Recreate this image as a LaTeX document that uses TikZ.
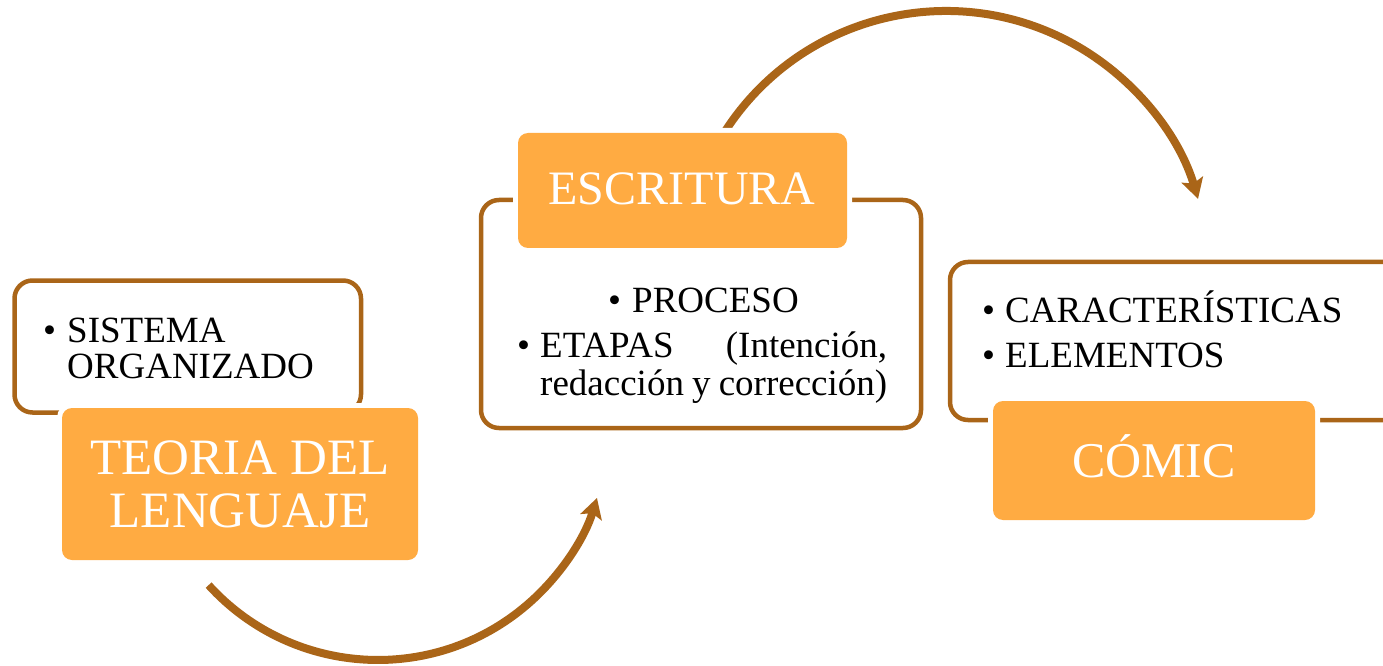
\documentclass[tikz,border=0pt]{standalone}
\usepackage{fontspec}
\setmainfont{Liberation Serif}
\usetikzlibrary{arrows.meta}
\definecolor{brn}{HTML}{AA6518}
\definecolor{org}{HTML}{FFAB42}
\begin{document}
\begin{tikzpicture}[x=1pt,y=1pt,
  outline/.style={draw=brn, line width=4.5pt, rounded corners=18pt, fill=white, inner sep=0pt, rectangle},
  titlebox/.style={fill=org, rounded corners=10pt, inner sep=0pt, rectangle, preaction={draw=white, line width=10pt}},
  flow/.style={draw=brn, line width=8pt, -{Stealth[length=20pt,width=22pt,inset=4pt]}},
  bodytxt/.style={anchor=base west, inner sep=0pt, font=\fontsize{37}{44}\selectfont},
  titletxt/.style={text=white, anchor=base, inner sep=0pt}
]
\useasboundingbox (0,0) rectangle (1383,665);
\clip (0,0) rectangle (1383,665);

% arrows
\coordinate (a1s) at (208.6,79.9);
\coordinate (a2s) at ({946+263*cos(148)},{391+263*sin(148)});
\draw[flow] (a1s) arc[start angle=222.3, end angle=343, radius=229];
\draw[flow] (a2s) arc[start angle=148, end angle=16.6, radius=263];

% box 1
\node[outline, minimum width=346.5pt, minimum height=132pt] (w1) at (187.75,318.5) {};
\node[titlebox, minimum width=356pt, minimum height=152pt] (o1) at (240,181) {};
\node[bodytxt] (b1) at (43,323) {\textbullet};
\node[bodytxt] (s1) at (67,323) {SISTEMA};
\node[bodytxt] (s2) at (67,287) {ORGANIZADO};
\node[titletxt, font=\fontsize{51}{53}\selectfont] (t1a) at (240,191) {TEORIA DEL};
\node[titletxt, font=\fontsize{51}{53}\selectfont] (t1b) at (240,138) {LENGUAJE};

% box 2
\node[outline, minimum width=440pt, minimum height=228pt] (w2) at (701,351) {};
\node[titlebox, minimum width=329pt, minimum height=115pt] (o2) at (682.5,474.5) {};
\node[titletxt, font=\fontsize{48}{50}\selectfont] (t2) at (682,460) {ESCRITURA};
\node[bodytxt] (b2) at (608,353) {\textbullet};
\node[bodytxt] (p1) at (632,353) {PROCESO};
\node[bodytxt] (b3) at (517,308) {\textbullet};
\node[bodytxt] (p2) at (540,308) {\hbox to 347pt{ETAPAS\hfill(Intención,}};
\node[bodytxt] (p3) at (540,270) {\hbox to 347pt{redacción y corrección)}};

% box 3
\node[outline, minimum width=480pt, minimum height=158pt] (w3) at (1190,324) {};
\node[titlebox, minimum width=322pt, minimum height=119pt] (o3) at (1154,204.5) {};
\node[titletxt, font=\fontsize{50}{52}\selectfont] (t3) at (1154,188) {CÓMIC};
\node[bodytxt] (b4) at (982,343) {\textbullet};
\node[bodytxt] (c1) at (1005,343) {CARACTERÍSTICAS};
\node[bodytxt] (b5) at (982,298) {\textbullet};
\node[bodytxt] (c2) at (1005,298) {ELEMENTOS};
\end{tikzpicture}
\end{document}
